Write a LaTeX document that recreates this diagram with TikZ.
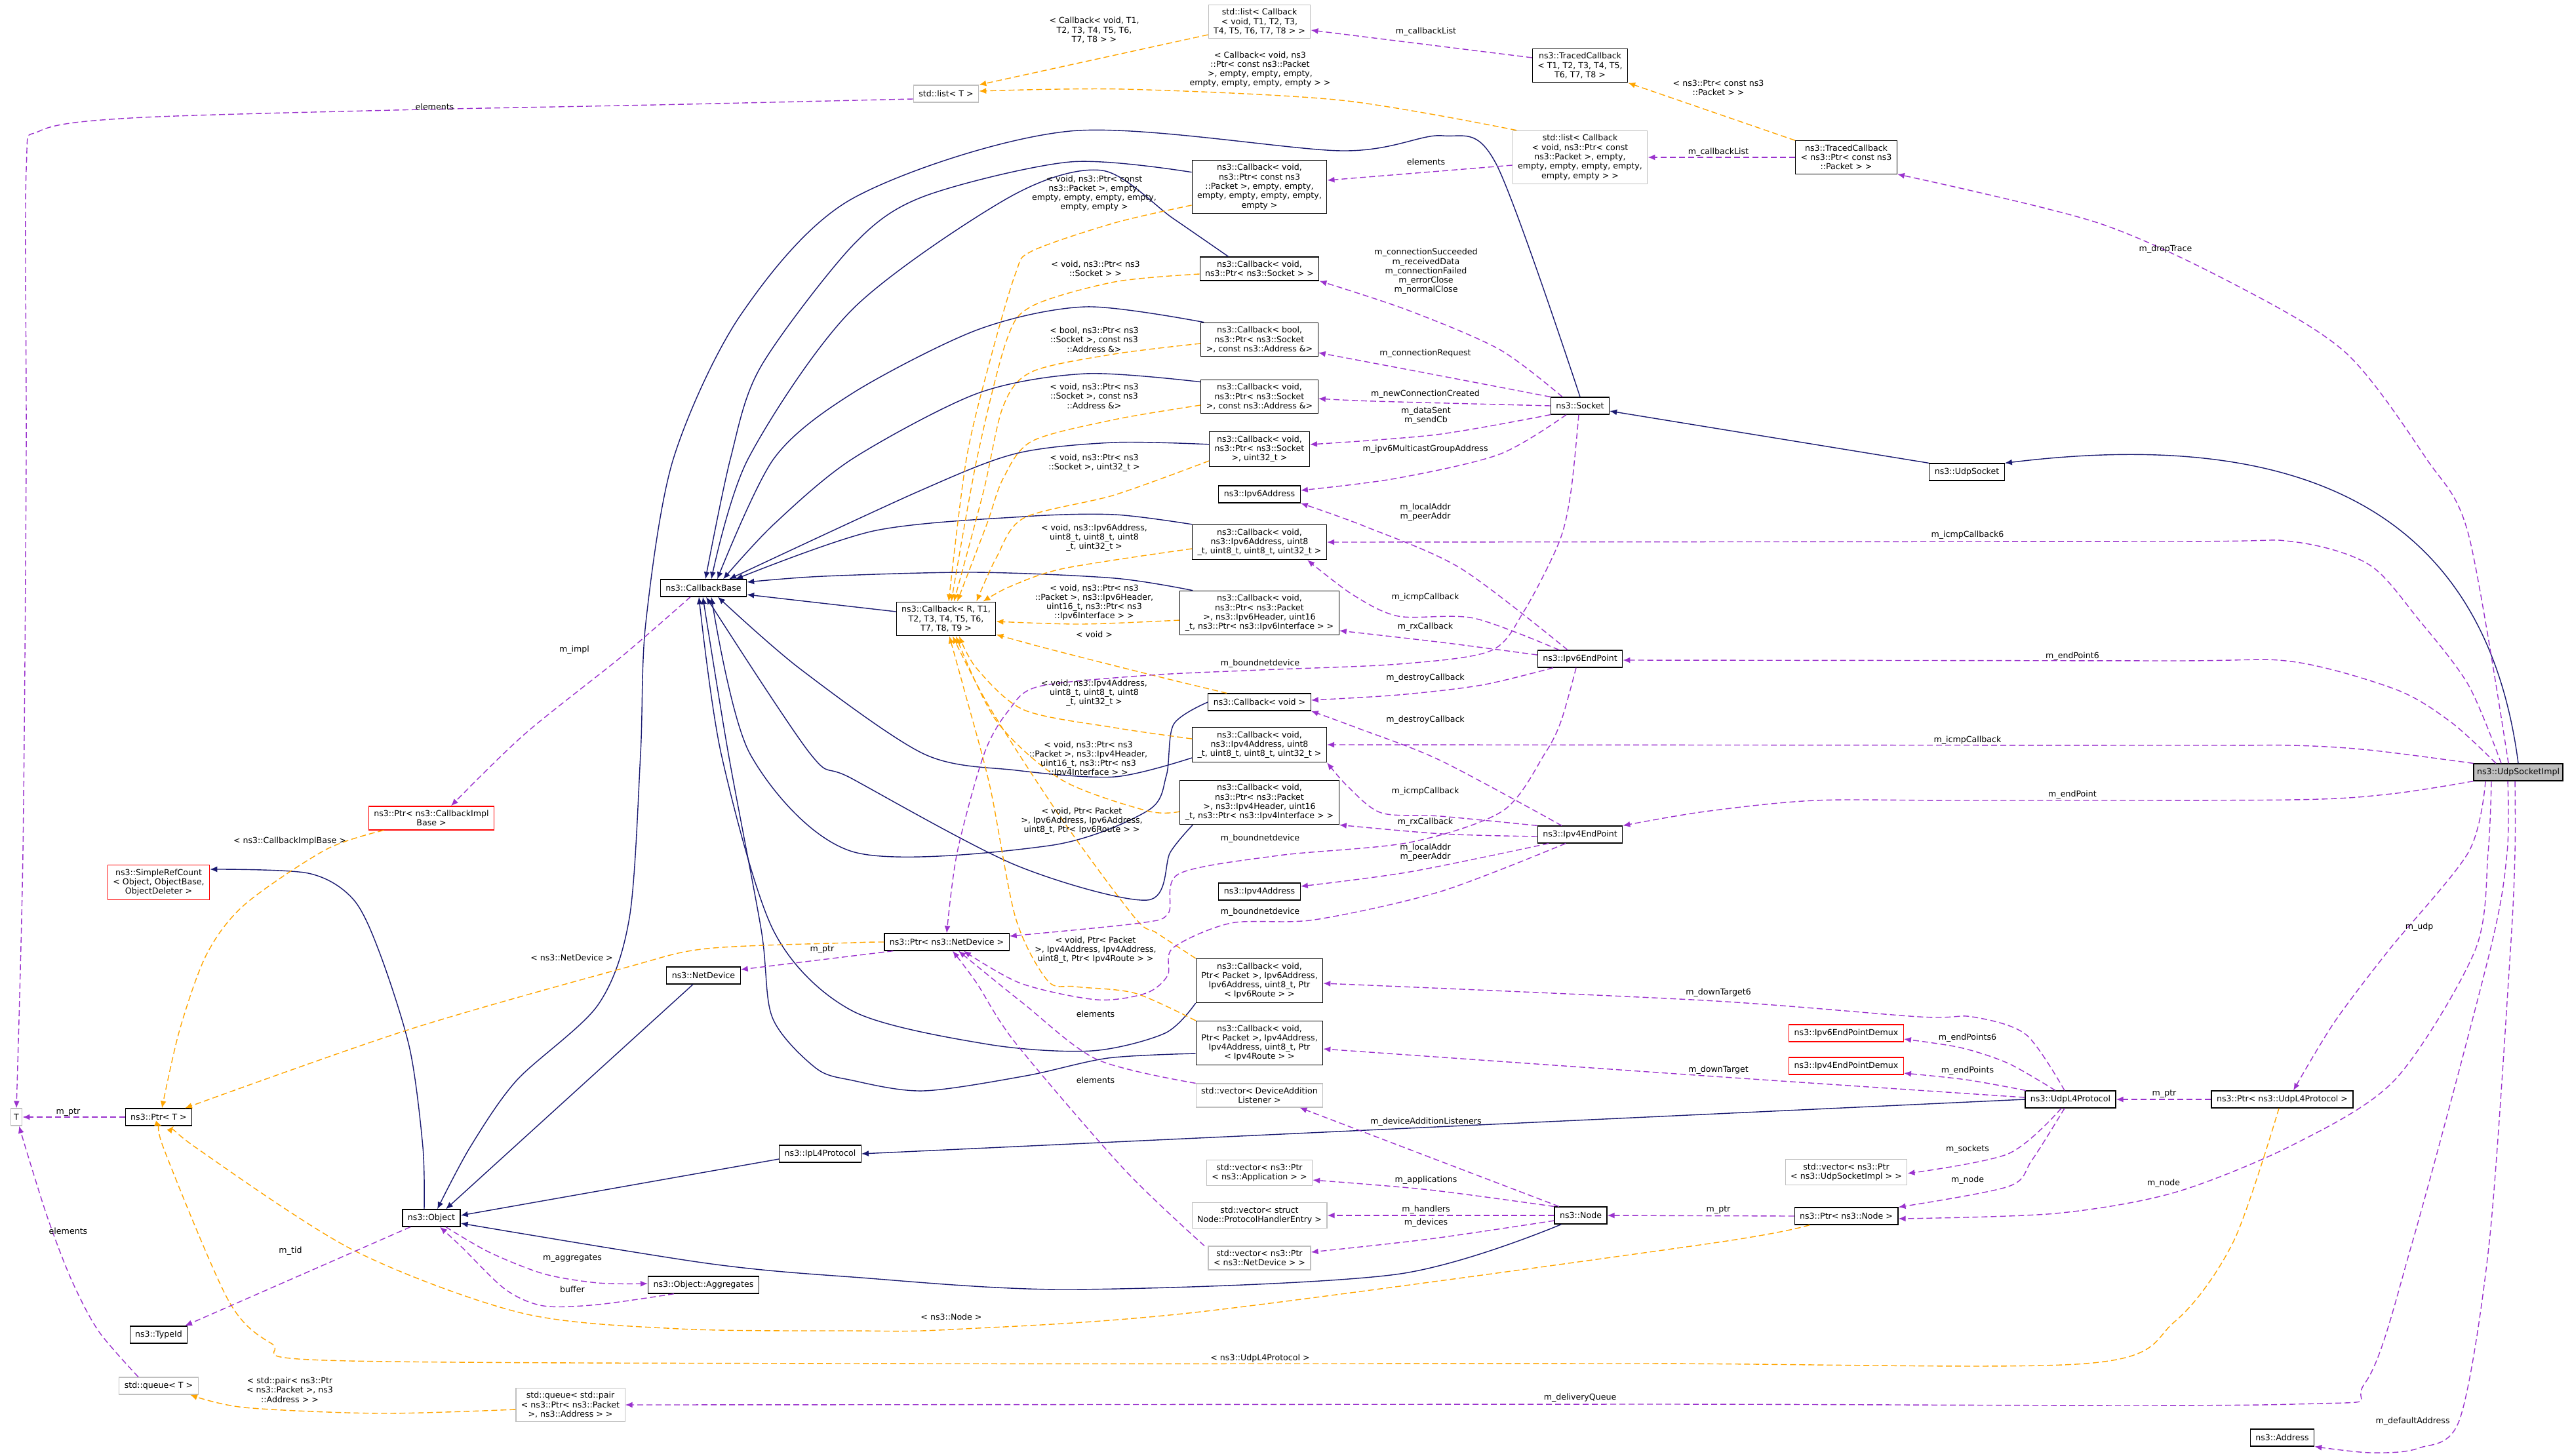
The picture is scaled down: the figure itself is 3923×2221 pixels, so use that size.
\documentclass[tikz,border=0pt]{standalone}
\usepackage{fontspec}
\setmainfont{DejaVu Sans}
\usetikzlibrary{arrows.meta}
\definecolor{EdgeNavy}{RGB}{25,25,112}
\definecolor{EdgePurple}{RGB}{154,50,205}
\definecolor{EdgeOrange}{RGB}{255,165,0}
\definecolor{ExtGray}{RGB}{191,191,191}
\definecolor{DocRed}{RGB}{255,0,0}
\definecolor{FocusGray}{RGB}{191,191,191}
\newcommand{\dxfont}{\fontsize{12.6}{14.3}\selectfont}
\tikzset{
  cls/.style={draw=black,fill=white,line width=1.2pt,font=\dxfont,align=center,
    inner xsep=8pt,inner ysep=6pt,minimum height=26pt},
  extcls/.style={cls,draw=ExtGray},
  redcls/.style={cls,draw=DocRed},
  focuscls/.style={cls,fill=FocusGray},
  derive/.style={-{Latex[length=11pt,width=9pt]},draw=EdgeNavy,line width=1.4pt},
  member/.style={-{Latex[length=11pt,width=9pt]},draw=EdgePurple,line width=1.4pt,
    dash pattern=on 9pt off 5pt},
  instance/.style={-{Latex[length=11pt,width=9pt]},draw=EdgeOrange,line width=1.4pt,
    dash pattern=on 9pt off 5pt},
  elbl/.style={font=\dxfont,align=center,inner sep=0pt}
}
\begin{document}
\begin{tikzpicture}[x=1pt,y=-1pt]
  \useasboundingbox (0,0) rectangle (3923,2221);

  % classes
  \node[extcls] (listcbT) at (1921,33) {std::list< Callback\\< void, T1, T2, T3,\\ T4, T5, T6, T7, T8 > >};
  \node[cls] (tracedT) at (2410,100) {ns3::TracedCallback\\< T1, T2, T3, T4, T5,\\ T6, T7, T8 >};
  \node[extcls] (listT) at (1443,143) {std::list< T >};
  \node[extcls] (listcbPkt) at (2410,240) {std::list< Callback\\< void, ns3::Ptr< const\\ ns3::Packet >, empty,\\ empty, empty, empty, empty,\\ empty, empty > >};
  \node[cls] (tracedPkt) at (2816,240) {ns3::TracedCallback\\< ns3::Ptr< const ns3\\::Packet > >};
  \node[cls] (cbPkt) at (1921,285) {ns3::Callback< void,\\ ns3::Ptr< const ns3\\::Packet >, empty, empty,\\ empty, empty, empty, empty,\\ empty >};
  \node[cls] (cbSock) at (1921,410) {ns3::Callback< void,\\ ns3::Ptr< ns3::Socket > >};
  \node[cls] (cbBoolAddr) at (1921,518) {ns3::Callback< bool,\\ ns3::Ptr< ns3::Socket\\ >, const ns3::Address \&>};
  \node[cls] (cbVoidAddr) at (1921,605) {ns3::Callback< void,\\ ns3::Ptr< ns3::Socket\\ >, const ns3::Address \&>};
  \node[cls] (cbSockU32) at (1921,685) {ns3::Callback< void,\\ ns3::Ptr< ns3::Socket\\ >, uint32\_t >};
  \node[cls] (ipv6addr) at (1921,754) {ns3::Ipv6Address};
  \node[cls] (cbIcmp6) at (1921,827) {ns3::Callback< void,\\ ns3::Ipv6Address, uint8\\\_t, uint8\_t, uint8\_t, uint32\_t >};
  \node[cls] (cbRx6) at (1921,935) {ns3::Callback< void,\\ ns3::Ptr< ns3::Packet\\ >, ns3::Ipv6Header, uint16\\\_t, ns3::Ptr< ns3::Ipv6Interface > >};
  \node[cls] (cbVoid) at (1921,1071) {ns3::Callback< void >};
  \node[cls] (cbIcmp4) at (1921,1136) {ns3::Callback< void,\\ ns3::Ipv4Address, uint8\\\_t, uint8\_t, uint8\_t, uint32\_t >};
  \node[cls] (cbRx4) at (1921,1224) {ns3::Callback< void,\\ ns3::Ptr< ns3::Packet\\ >, ns3::Ipv4Header, uint16\\\_t, ns3::Ptr< ns3::Ipv4Interface > >};
  \node[cls] (ipv4addr) at (1921,1360) {ns3::Ipv4Address};
  \node[cls] (cbDown6) at (1921,1496) {ns3::Callback< void,\\ Ptr< Packet >, Ipv6Address,\\ Ipv6Address, uint8\_t, Ptr\\< Ipv6Route > >};
  \node[cls] (cbDown4) at (1921,1591) {ns3::Callback< void,\\ Ptr< Packet >, Ipv4Address,\\ Ipv4Address, uint8\_t, Ptr\\< Ipv4Route > >};
  \node[extcls] (vecListener) at (1921,1671) {std::vector< DeviceAddition\\Listener >};
  \node[extcls] (vecApp) at (1921,1789) {std::vector< ns3::Ptr\\< ns3::Application > >};
  \node[extcls] (vecHandler) at (1921,1854) {std::vector< struct\\ Node::ProtocolHandlerEntry >};
  \node[extcls] (vecDev) at (1921,1919) {std::vector< ns3::Ptr\\< ns3::NetDevice > >};
  \node[cls] (node) at (2411,1854) {ns3::Node};
  \node[cls] (ptrDev) at (1444,1437) {ns3::Ptr< ns3::NetDevice >};
  \node[cls] (netdev) at (1073,1488) {ns3::NetDevice};
  \node[redcls] (ptrImpl) at (658,1248) {ns3::Ptr< ns3::CallbackImpl\\Base >};
  \node[redcls] (refcount) at (242,1346) {ns3::SimpleRefCount\\< Object, ObjectBase,\\ ObjectDeleter >};
  \node[extcls,inner xsep=5pt] (tparam) at (25,1704) {T};
  \node[cls] (ptrT) at (242,1704) {ns3::Ptr< T >};
  \node[cls] (object) at (658,1858) {ns3::Object};
  \node[cls] (typeid) at (242,2036) {ns3::TypeId};
  \node[cls] (aggr) at (1073,1960) {ns3::Object::Aggregates};
  \node[extcls] (queueT) at (242,2114) {std::queue< T >};
  \node[extcls] (queuePkt) at (870,2143) {std::queue< std::pair\\< ns3::Ptr< ns3::Packet\\ >, ns3::Address > >};
  \node[cls] (ipl4) at (1251,1760) {ns3::IpL4Protocol};
  \node[cls] (cbBase) at (1073,897) {ns3::CallbackBase};
  \node[cls] (cbTmpl) at (1443,944) {ns3::Callback< R, T1,\\ T2, T3, T4, T5, T6,\\ T7, T8, T9 >};
  \node[cls] (socket) at (2410,619) {ns3::Socket};
  \node[cls] (udpsock) at (3000,720) {ns3::UdpSocket};
  \node[focuscls,inner xsep=5pt] (udpimpl) at (3841,1178) {ns3::UdpSocketImpl};
  \node[cls] (ep6) at (2410,1005) {ns3::Ipv6EndPoint};
  \node[cls] (ep4) at (2410,1273) {ns3::Ipv4EndPoint};
  \node[redcls] (demux6) at (2816,1576) {ns3::Ipv6EndPointDemux};
  \node[redcls] (demux4) at (2816,1626) {ns3::Ipv4EndPointDemux};
  \node[cls] (udpl4) at (3158,1677) {ns3::UdpL4Protocol};
  \node[cls] (ptrUdp) at (3481,1677) {ns3::Ptr< ns3::UdpL4Protocol >};
  \node[extcls] (vecSock) at (2816,1788) {std::vector< ns3::Ptr\\< ns3::UdpSocketImpl > >};
  \node[cls] (ptrNode) at (2816,1855) {ns3::Ptr< ns3::Node >};
  \node[cls] (address) at (3481,2193) {ns3::Address};

  % inheritance
  \draw[derive] (udpsock.north west) -- ([yshift=-8pt]socket.east);
  \draw[derive] (udpimpl.north) .. controls (3800,850) and (3600,640) .. (udpsock.north east);
  \draw[derive] plot[smooth] coordinates {(socket.north) (2282,250) (2200,207) (2046,230) (1632,200) (1300,303) (1130,480) (1027,700) (985,950) (977,1150) (960,1400) (912,1533) (788,1648) (717,1750) ([xshift=9pt]object.north)};
  \draw[derive] ([xshift=-16pt]netdev.south) -- ([xshift=22pt]object.north);
  \draw[derive] plot[smooth] coordinates {([xshift=11pt]node.south west) (2129,1944) (1632,1967) (1300,1948) (1078,1927) ([yshift=-8pt]object.east)};
  \draw[derive] ([yshift=-8pt]ipl4.west) -- ([yshift=4pt]object.east);
  \draw[derive] (udpl4.west) -- (ipl4.east);
  \draw[derive] plot[smooth] coordinates {([xshift=-11pt]object.north) (645,1750) (625,1600) (580,1456) (539,1372) (470,1332) ([yshift=20pt]refcount.east)};
  \draw[derive] ([yshift=11pt]cbTmpl.west) -- ([yshift=-10pt]cbBase.east);
  \draw[derive] plot[smooth] coordinates {([xshift=20pt]cbRx6.north west) (1700,882) (1486,873) (1256,879) ([yshift=9pt]cbBase.east)};
  \draw[derive] plot[smooth] coordinates {(cbIcmp6.north west) (1700,785) (1562,788) (1332,810) ([xshift=49pt]cbBase.north)};
  \draw[derive] plot[smooth] coordinates {([yshift=-20pt]cbSockU32.north west) (1698,675) (1549,692) (1400,750) ([xshift=39pt]cbBase.north)};
  \draw[derive] plot[smooth] coordinates {([yshift=-4pt]cbVoidAddr.north west) (1656,570) (1491,600) (1300,700) (1180,800) ([xshift=30pt]cbBase.north)};
  \draw[derive] plot[smooth] coordinates {([xshift=5pt]cbBoolAddr.north west) (1656,468) (1491,503) (1300,600) (1180,700) ([xshift=21pt]cbBase.north)};
  \draw[derive] plot[smooth] coordinates {([xshift=44pt]cbSock.north west) (1789,333) (1681,260) (1541,300) (1300,472) (1141,700) ([xshift=12pt]cbBase.north)};
  \draw[derive] plot[smooth] coordinates {([yshift=-19pt]cbPkt.north west) (1632,247) (1408,300) (1300,375) (1160,560) (1114,700) ([xshift=3pt]cbBase.north)};
  \draw[derive] plot[smooth] coordinates {(cbVoid.west) (1790,1105) (1779,1183) (1750,1237) (1600,1290) (1300,1299) (1144,1150) ([xshift=12pt]cbBase.south)};
  \draw[derive] plot[smooth] coordinates {([yshift=-20pt]cbIcmp4.west) (1700,1185) (1550,1175) (1409,1150) (1220,1020) ([xshift=22pt]cbBase.south)};
  \draw[derive] plot[smooth] coordinates {([xshift=20pt]cbRx4.south west) (1785,1300) (1750,1373) (1550,1320) (1300,1188) (1236,1150) ([xshift=4pt]cbBase.south)};
  \draw[derive] plot[smooth] coordinates {(cbDown6.south west) (1777,1576) (1665,1603) (1507,1593) (1300,1542) (1180,1420) (1100,1150) ([xshift=-7pt]cbBase.south)};
  \draw[derive] plot[smooth] coordinates {([yshift=-16pt]cbDown4.west) (1690,1614) (1565,1641) (1408,1664) (1300,1648) (1244,1629) (1178,1552) (1161,1418) (1111,1150) ([xshift=-1pt]cbBase.south)};

  % template instances
  \draw[instance] ([yshift=-20pt]listcbT.west) -- (listT.north east);
  \draw[instance] plot[smooth] coordinates {([xshift=-97pt]listcbPkt.north) (2046,153) (1714,136) ([yshift=4pt]listT.east)};
  \draw[instance] (tracedPkt.north west) -- (tracedT.south east);
  \draw[instance] plot[smooth] coordinates {([yshift=-28pt]cbPkt.west) (1700,340) (1574,383) (1549,417) (1510,550) (1474,700) ([xshift=4pt]cbTmpl.north)};
  \draw[instance] plot[smooth] coordinates {([yshift=-8pt]cbSock.west) (1700,430) (1574,467) (1535,520) (1490,700) ([xshift=8pt]cbTmpl.north)};
  \draw[instance] plot[smooth] coordinates {([yshift=-6pt]cbBoolAddr.west) (1700,540) (1574,567) (1530,620) (1500,750) ([xshift=12pt]cbTmpl.north)};
  \draw[instance] plot[smooth] coordinates {([yshift=-13pt]cbVoidAddr.west) (1700,640) (1574,673) (1530,730) (1505,800) ([xshift=17pt]cbTmpl.north)};
  \draw[instance] plot[smooth] coordinates {([yshift=-18pt]cbSockU32.west) (1700,755) (1562,790) (1520,850) ([xshift=-30pt]cbTmpl.north east)};
  \draw[instance] plot[smooth] coordinates {([yshift=-10pt]cbIcmp6.west) (1623,867) (1540,895) ([xshift=-20pt]cbTmpl.north east)};
  \draw[instance] plot[smooth] coordinates {([yshift=-11pt]cbRx6.west) (1650,952) ([yshift=-4pt]cbTmpl.east)};
  \draw[instance] plot[smooth] coordinates {([xshift=29pt]cbVoid.north west) (1750,1028) (1600,990) ([yshift=-24pt]cbTmpl.east)};
  \draw[instance] plot[smooth] coordinates {([yshift=9pt]cbIcmp4.west) (1700,1110) (1562,1083) (1490,1020) ([xshift=20pt]cbTmpl.south)};
  \draw[instance] plot[smooth] coordinates {([yshift=-14pt]cbRx4.west) (1750,1237) (1620,1190) (1520,1100) ([xshift=15pt]cbTmpl.south)};
  \draw[instance] plot[smooth] coordinates {(cbDown6.north west) (1764,1423) (1731,1400) (1620,1250) (1510,1080) ([xshift=10pt]cbTmpl.south)};
  \draw[instance] plot[smooth] coordinates {(cbDown4.north west) (1731,1515) (1640,1505) (1598,1496) (1549,1400) (1510,1200) (1470,1050) ([xshift=5pt]cbTmpl.south)};
  \draw[instance] plot[smooth] coordinates {([xshift=-73pt]ptrImpl.south) (497,1296) (373,1380) (315,1456) (274,1571) ([xshift=5pt]ptrT.north)};
  \draw[instance] plot[smooth] coordinates {(ptrDev.west) (1300,1438) (1078,1447) (954,1476) (622,1571) ([xshift=40pt]ptrT.north)};
  \draw[instance] plot[smooth] coordinates {([xshift=-56pt]ptrNode.south) (2600,1898) (1831,2001) (1451,2028) (1300,2030) (1036,2027) (796,2003) (539,1907) (298,1750) ([xshift=23pt]ptrT.south)};
  \draw[instance] plot[smooth] coordinates {([xshift=-5pt]ptrUdp.south) (3407,1893) (3317,2016) (3181,2080) (2500,2080) (1300,2080) (497,2075) (415,2050) (348,1983) (249,1750) ([xshift=5pt]ptrT.south)};
  \draw[instance] plot[smooth] coordinates {([yshift=-7pt]queuePkt.west) (580,2156) (373,2147) ([xshift=48pt]queueT.south)};

  % members
  \draw[member] ([yshift=12pt]tracedT.west) -- ([yshift=-13pt]listcbT.east);
  \draw[member] (tracedPkt.west) -- (listcbPkt.east);
  \draw[member] ([yshift=-12pt]listcbPkt.west) -- ([yshift=10pt]cbPkt.east);
  \draw[member] plot[smooth] coordinates {([yshift=-8pt]listT.west) (1000,160) (600,168) (200,180) (60,200) (40,260) (40,700) (35,1300) (tparam.north)};
  \draw[member] plot[smooth] coordinates {([xshift=-31pt]queueT.north) (150,2030) (108,1950) (70,1850) ([xshift=4pt]tparam.south)};
  \draw[member] (ptrT.west) -- (tparam.east);
  \draw[member] plot[smooth] coordinates {([xshift=-15pt]udpimpl.north) (3765,815) (3701,700) (3580,540) (3420,440) (3200,340) (tracedPkt.south east)};
  \draw[member] plot[smooth] coordinates {([xshift=-26pt]udpimpl.north) (3765,1045) (3689,945) (3613,861) (3495,826) (3300,826) (cbIcmp6.east)};
  \draw[member] plot[smooth] coordinates {([xshift=-34pt]udpimpl.north) (3739,1102) (3655,1052) (3495,1009) (3300,1008) ([yshift=-2pt]ep6.east)};
  \draw[member] plot[smooth] coordinates {(udpimpl.north west) (3613,1144) (3495,1137) (3300,1137) (cbIcmp4.east)};
  \draw[member] plot[smooth] coordinates {(udpimpl.south west) (3647,1211) (3495,1220) (3000,1221) (2769,1221) (2600,1238) (ep4.north east)};
  \draw[member] plot[smooth] coordinates {([xshift=-50pt]udpimpl.south) (3765,1300) (3643,1450) (3560,1560) ([xshift=17pt]ptrUdp.north)};
  \draw[member] plot[smooth] coordinates {([xshift=-41pt]udpimpl.south) (3795,1300) (3775,1450) (3653,1647) (3498,1746) (3317,1819) (3135,1851) ([yshift=-4pt]ptrNode.east)};
  \draw[member] plot[smooth] coordinates {([xshift=-16pt]udpimpl.south) (3824,1300) (3798,1450) (3680,1893) (3607,2110) (3498,2142) (2500,2142) (queuePkt.east)};
  \draw[member] plot[smooth] coordinates {([xshift=-5pt]udpimpl.south) (3836,1300) (3829,1450) (3797,1893) (3752,2164) (3689,2209) (3616,2216) (address.south east)};
  \draw[member] plot[smooth] coordinates {([xshift=-27pt]socket.north) (2287,533) (2147,473) (cbSock.south east)};
  \draw[member] plot[smooth] coordinates {(socket.north west) (2180,570) ([yshift=-20pt]cbBoolAddr.east)};
  \draw[member] plot[smooth] coordinates {(socket.west) (2096,612) ([yshift=-3pt]cbVoidAddr.east)};
  \draw[member] plot[smooth] coordinates {(socket.south west) (2191,663) ([yshift=7pt]cbSockU32.east)};
  \draw[member] plot[smooth] coordinates {([xshift=-21pt]socket.south) (2287,693) (2128,730) ([yshift=6pt]ipv6addr.east)};
  \draw[member] plot[smooth] coordinates {([xshift=-2pt]socket.south) (2396,750) (2378,827) (2324,933) (2273,993) (2133,1013) (1922,1022) (1753,1030) (1585,1047) (1539,1083) (1501,1150) (1460,1300) (ptrDev.north)};
  \draw[member] plot[smooth] coordinates {([xshift=-19pt]ep6.north) (2228,867) (2082,803) (ipv6addr.south east)};
  \draw[member] plot[smooth] coordinates {([xshift=-32pt]ep6.north) (2248,943) (2133,940) (2063,907) ([xshift=-30pt]cbIcmp6.south east)};
  \draw[member] plot[smooth] coordinates {([yshift=6pt]ep6.west) (2200,980) ([yshift=-27pt]cbRx6.east)};
  \draw[member] plot[smooth] coordinates {([xshift=-41pt]ep6.south) (2260,1045) (2133,1060) ([yshift=3pt]cbVoid.east)};
  \draw[member] plot[smooth] coordinates {([xshift=-6pt]ep6.south) (2381,1100) (2356,1150) (2292,1237) (2150,1285) (1950,1305) (1798,1333) (1782,1393) (1739,1408) ([yshift=9pt]ptrDev.east)};
  \draw[member] plot[smooth] coordinates {([xshift=-28pt]ep4.north) (2197,1160) (2069,1110) (cbVoid.south east)};
  \draw[member] plot[smooth] coordinates {(ep4.north west) (2197,1245) (2107,1240) (2056,1200) (cbIcmp4.south east)};
  \draw[member] plot[smooth] coordinates {([yshift=-3pt]ep4.west) (2200,1272) (cbRx4.south east)};
  \draw[member] plot[smooth] coordinates {([xshift=-48pt]ep4.south) (2150,1330) ([yshift=8pt]ipv4addr.east)};
  \draw[member] plot[smooth] coordinates {([xshift=-22pt]ep4.south) (2197,1360) (2005,1403) (1878,1408) (1789,1446) (1781,1488) (1748,1515) (1673,1525) (1557,1500) ([xshift=26pt]ptrDev.south)};
  \draw[member] plot[smooth] coordinates {([xshift=-84pt]vecDev.north) (1714,1783) (1549,1591) (1490,1500) ([xshift=9pt]ptrDev.south)};
  \draw[member] plot[smooth] coordinates {(vecListener.north west) (1673,1616) (1560,1530) ([xshift=18pt]ptrDev.south)};
  \draw[member] ([xshift=14pt]ptrDev.south west) -- ([yshift=9pt]netdev.east);
  \draw[member] plot[smooth] coordinates {([xshift=-20pt]cbBase.south) (950,1000) (800,1120) ([xshift=30pt]ptrImpl.north)};
  \draw[member] plot[smooth] coordinates {([xshift=-9pt]udpl4.north) (3090,1578) (3008,1551) (2927,1551) (2600,1526) ([yshift=-4pt]cbDown6.east)};
  \draw[member] plot[smooth] coordinates {([yshift=3pt]udpl4.west) (2600,1641) ([yshift=-9pt]cbDown4.east)};
  \draw[member] plot[smooth] coordinates {([xshift=-23pt]udpl4.north) (3063,1622) (2990,1598) ([yshift=-9pt]demux6.east)};
  \draw[member] plot[smooth] coordinates {([xshift=-68pt]udpl4.north) (2999,1647) ([yshift=-11pt]demux4.east)};
  \draw[member] plot[smooth] coordinates {([xshift=-14pt]udpl4.south) (3063,1760) ([yshift=-2pt]vecSock.east)};
  \draw[member] plot[smooth] coordinates {([xshift=-9pt]udpl4.south) (3099,1770) (3063,1810) (ptrNode.north east)};
  \draw[member] (ptrUdp.west) -- (udpl4.east);
  \draw[member] (ptrNode.west) -- (node.east);
  \draw[member] ([xshift=-33pt]node.north) -- ([xshift=-36pt]vecListener.south east);
  \draw[member] plot[smooth] coordinates {(node.north west) (2180,1815) ([yshift=-11pt]vecApp.east)};
  \draw[member] (node.west) -- (vecHandler.east);
  \draw[member] plot[smooth] coordinates {([yshift=-8pt]node.west) (2180,1890) ([yshift=9pt]vecDev.east)};
  \draw[member] ([xshift=-32pt]object.south) -- ([xshift=40pt]typeid.north);
  \draw[member] plot[smooth] coordinates {([xshift=22pt]object.south) (746,1910) (829,1943) (912,1957) ([yshift=2pt]aggr.west)};
  \draw[member] plot[smooth] coordinates {([xshift=-45pt]aggr.south) (912,1990) (829,1992) (771,1967) (705,1903) ([xshift=13pt]object.south)};

  % labels
  \node[elbl] (tA) at (1669,46) {< Callback< void, T1,\\T2, T3, T4, T5, T6,\\ T7, T8 > >};
  \node[elbl] (tB) at (1922,106) {< Callback< void, ns3\\::Ptr< const ns3::Packet\\>, empty, empty, empty,\\empty, empty, empty, empty > >};
  \node[elbl] (mCbList) at (2175,48) {m\_callbackList};
  \node[elbl] (tC) at (2621,134) {< ns3::Ptr< const ns3\\::Packet > >};
  \node[elbl] (mCbList2) at (2621,232) {m\_callbackList};
  \node[elbl] (mElem1) at (2175,247) {elements};
  \node[elbl] (mElem2) at (663,163) {elements};
  \node[elbl] (tPkt) at (1669,295) {< void, ns3::Ptr< const\\ns3::Packet >, empty,\\ empty, empty, empty, empty,\\ empty, empty >};
  \node[elbl] (tSock) at (1671,410) {< void, ns3::Ptr< ns3\\::Socket > >};
  \node[elbl] (tBool) at (1669,518) {< bool, ns3::Ptr< ns3\\::Socket >, const ns3\\::Address \&>};
  \node[elbl] (tVoidAddr) at (1669,604) {< void, ns3::Ptr< ns3\\::Socket >, const ns3\\::Address \&>};
  \node[elbl] (tU32) at (1669,706) {< void, ns3::Ptr< ns3\\::Socket >, uint32\_t >};
  \node[elbl] (mConn) at (2175,414) {m\_connectionSucceeded\\m\_receivedData\\m\_connectionFailed\\m\_errorClose\\m\_normalClose};
  \node[elbl] (mConnReq) at (2174,539) {m\_connectionRequest};
  \node[elbl] (mNewConn) at (2174,601) {m\_newConnectionCreated};
  \node[elbl] (mSent) at (2175,634) {m\_dataSent\\m\_sendCb};
  \node[elbl] (mMcast) at (2174,685) {m\_ipv6MulticastGroupAddress};
  \node[elbl] (tIcmp6) at (1669,820) {< void, ns3::Ipv6Address,\\uint8\_t, uint8\_t, uint8\\\_t, uint32\_t >};
  \node[elbl] (tRx6) at (1669,919) {< void, ns3::Ptr< ns3\\::Packet >, ns3::Ipv6Header,\\uint16\_t, ns3::Ptr< ns3\\::Ipv6Interface > >};
  \node[elbl] (tVoid) at (1669,968) {< void >};
  \node[elbl] (tIcmp4) at (1669,1057) {< void, ns3::Ipv4Address,\\uint8\_t, uint8\_t, uint8\\\_t, uint32\_t >};
  \node[elbl] (tRx4) at (1660,1158) {< void, ns3::Ptr< ns3\\::Packet >, ns3::Ipv4Header,\\uint16\_t, ns3::Ptr< ns3\\::Ipv4Interface > >};
  \node[elbl] (tDown6) at (1650,1252) {< void, Ptr< Packet\\>, Ipv6Address, Ipv6Address,\\uint8\_t, Ptr< Ipv6Route > >};
  \node[elbl] (tDown4) at (1671,1449) {< void, Ptr< Packet\\>, Ipv4Address, Ipv4Address,\\uint8\_t, Ptr< Ipv4Route > >};
  \node[elbl] (mAddr6) at (2174,781) {m\_localAddr\\m\_peerAddr};
  \node[elbl] (mIcmp6ep) at (2174,911) {m\_icmpCallback};
  \node[elbl] (mRx6) at (2174,956) {m\_rxCallback};
  \node[elbl] (mDestroy6) at (2174,1034) {m\_destroyCallback};
  \node[elbl] (mDestroy4) at (2174,1098) {m\_destroyCallback};
  \node[elbl] (mIcmp4ep) at (2174,1207) {m\_icmpCallback};
  \node[elbl] (mRx4) at (2174,1254) {m\_rxCallback};
  \node[elbl] (mAddr4) at (2174,1300) {m\_localAddr\\m\_peerAddr};
  \node[elbl] (mBound1) at (1922,1012) {m\_boundnetdevice};
  \node[elbl] (mBound2) at (1922,1279) {m\_boundnetdevice};
  \node[elbl] (mBound3) at (1922,1391) {m\_boundnetdevice};
  \node[elbl] (mIcmp6) at (3001,816) {m\_icmpCallback6};
  \node[elbl] (mEp6) at (3161,1001) {m\_endPoint6};
  \node[elbl] (mIcmp4) at (3001,1129) {m\_icmpCallback};
  \node[elbl] (mEp4) at (3161,1212) {m\_endPoint};
  \node[elbl] (mDrop) at (3303,380) {m\_dropTrace};
  \node[elbl] (mUdp) at (3690,1414) {m\_udp};
  \node[elbl] (mNode1) at (3300,1805) {m\_node};
  \node[elbl] (mQueue) at (2410,2132) {m\_deliveryQueue};
  \node[elbl] (mDefAddr) at (3680,2168) {m\_defaultAddress};
  \node[elbl] (mDown6) at (2621,1514) {m\_downTarget6};
  \node[elbl] (mDown4) at (2621,1632) {m\_downTarget};
  \node[elbl] (mEps6) at (3001,1583) {m\_endPoints6};
  \node[elbl] (mEps4) at (3001,1633) {m\_endPoints};
  \node[elbl] (mSockets) at (3001,1753) {m\_sockets};
  \node[elbl] (mNode2) at (3001,1800) {m\_node};
  \node[elbl] (mPtrUdp) at (3301,1669) {m\_ptr};
  \node[elbl] (mPtrNode) at (2621,1846) {m\_ptr};
  \node[elbl] (mListen) at (2175,1711) {m\_deviceAdditionListeners};
  \node[elbl] (mApps) at (2175,1800) {m\_applications};
  \node[elbl] (mHand) at (2175,1845) {m\_handlers};
  \node[elbl] (mDevs) at (2175,1865) {m\_devices};
  \node[elbl] (mElem3) at (1671,1547) {elements};
  \node[elbl] (mElem4) at (1671,1648) {elements};
  \node[elbl] (mTid) at (443,1908) {m\_tid};
  \node[elbl] (mAggr) at (873,1920) {m\_aggregates};
  \node[elbl] (mBuf) at (873,1967) {buffer};
  \node[elbl] (mImpl) at (876,991) {m\_impl};
  \node[elbl] (mPtrDev) at (1254,1449) {m\_ptr};
  \node[elbl] (mPtrT) at (104,1697) {m\_ptr};
  \node[elbl] (mElem5) at (104,1878) {elements};
  \node[elbl] (tImpl) at (442,1283) {< ns3::CallbackImplBase >};
  \node[elbl] (tDev) at (872,1461) {< ns3::NetDevice >};
  \node[elbl] (tNode) at (1451,2009) {< ns3::Node >};
  \node[elbl] (tUdp) at (1922,2072) {< ns3::UdpL4Protocol >};
  \node[elbl] (tPair) at (442,2120) {< std::pair< ns3::Ptr\\< ns3::Packet >, ns3\\::Address > >};
\end{tikzpicture}
\end{document}
